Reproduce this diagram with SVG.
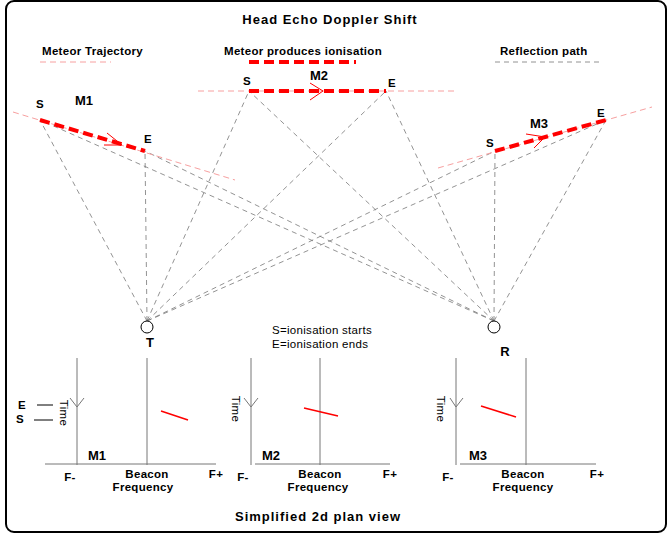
<svg xmlns="http://www.w3.org/2000/svg" width="672" height="535" viewBox="0 0 672 535">
<style>
text{font-family:"Liberation Sans",Arial,sans-serif;fill:#000}
.t{font-size:11.5px;font-weight:bold;letter-spacing:0.3px}
.h{font-size:13px;font-weight:bold;letter-spacing:1px}
.m{font-size:13px;font-weight:bold}
.n{font-size:11.5px;letter-spacing:0.3px}
.traj{stroke:#f7a0a0;stroke-width:1;stroke-dasharray:6 4;fill:none}
.ion{stroke:#f00;stroke-width:4;stroke-dasharray:10 5;fill:none}
.refl{stroke:#777;stroke-width:0.8;stroke-dasharray:5 4;fill:none}
.ax{stroke:#777;stroke-width:1;fill:none}
.red{stroke:#f00;stroke-width:1.5;fill:none}
</style>
<rect x="0" y="0" width="672" height="535" fill="#fff"/>
<rect x="6" y="1" width="660" height="531" rx="8" fill="none" stroke="#000" stroke-width="2"/>
<text x="330" y="24" text-anchor="middle" class="h">Head Echo Doppler Shift</text>
<g id="legend">
<text x="42" y="55" class="t">Meteor Trajectory</text>
<line x1="40" y1="62" x2="111" y2="62" class="traj"/>
<text x="224" y="55" class="t">Meteor produces ionisation</text>
<line x1="249" y1="62" x2="356" y2="62" class="ion"/>
<text x="500" y="55" class="t">Reflection path</text>
<line x1="495" y1="62" x2="603" y2="62" class="refl"/>
</g>
<g id="connectors">
<path class="refl" d="M147,321 L40,120 M147,321 L145,151 M147,321 L249,91 M147,321 L386,91 M147,321 L495,151 M147,321 L606,120 M494,321 L40,120 M494,321 L145,151 M494,321 L249,91 M494,321 L386,91 M494,321 L495,151 M494,321 L606,120"/>
</g>
<g id="M1">
<line x1="13" y1="112" x2="235" y2="180" class="traj"/>
<line x1="40" y1="120" x2="145" y2="151" class="ion"/>
<path d="M107,133 L122,145 M104,145 L122,145" stroke="#f00" fill="none"/>
<text x="36" y="108" class="t">S</text>
<text x="144" y="143" class="t">E</text>
<text x="75" y="105" class="m">M1</text>
</g>
<g id="M2">
<line x1="198" y1="91" x2="458" y2="91" class="traj"/>
<line x1="249" y1="91" x2="386" y2="91" class="ion"/>
<path d="M310,83 L323,91 L310,100" stroke="#f00" fill="none"/>
<text x="243" y="85" class="t">S</text>
<text x="388" y="87" class="t">E</text>
<text x="310" y="80" class="m">M2</text>
</g>
<g id="M3">
<line x1="438" y1="168" x2="652" y2="107" class="traj"/>
<line x1="495" y1="151" x2="606" y2="120" class="ion"/>
<path d="M526,134 L545,137 M534,148 L545,137" stroke="#f00" fill="none"/>
<text x="486" y="147" class="t">S</text>
<text x="597" y="117" class="t">E</text>
<text x="530" y="128" class="m">M3</text>
</g>
<g id="T">
<circle cx="147" cy="327" r="6" fill="#fff" stroke="#000"/>
<text x="150" y="347" text-anchor="middle" class="m" font-weight="normal">T</text>
</g>
<g id="R">
<circle cx="494" cy="327" r="6" fill="#fff" stroke="#000"/>
<text x="505" y="356" text-anchor="middle" class="m">R</text>
</g>
<g id="key">
<text x="272" y="334" class="n">S=ionisation starts</text>
<text x="272" y="348" class="n">E=ionisation ends</text>
</g>
<g id="panel1">
<path class="ax" d="M77,358 V465 M147,358 V465 M45,464 H216 M70,398 L77,407 L84,398"/>
<path d="M37,405 H53 M34,420 H53" stroke="#000" fill="none"/>
<text x="22" y="409" text-anchor="middle" class="t">E</text>
<text x="20" y="423" text-anchor="middle" class="t">S</text>
<text transform="translate(60,413) rotate(90)" text-anchor="middle" class="n">Time</text>
<line x1="161" y1="411" x2="188" y2="420" class="red"/>
<text x="88" y="460" class="m">M1</text>
<text x="70" y="481" text-anchor="middle" class="t">F-</text>
<text x="147" y="478" text-anchor="middle" class="t">Beacon</text>
<text x="143" y="491" text-anchor="middle" class="t">Frequency</text>
<text x="216" y="478" text-anchor="middle" class="t">F+</text>
</g>
<g id="panel2">
<path class="ax" d="M251,358 V465 M320,358 V465 M255,464 H390 M244,398 L251,407 L258,398"/>
<text transform="translate(232,409) rotate(90)" text-anchor="middle" class="n">Time</text>
<line x1="304" y1="408" x2="338" y2="416" class="red"/>
<text x="262" y="460" class="m">M2</text>
<text x="243" y="481" text-anchor="middle" class="t">F-</text>
<text x="320" y="478" text-anchor="middle" class="t">Beacon</text>
<text x="318" y="491" text-anchor="middle" class="t">Frequency</text>
<text x="390" y="478" text-anchor="middle" class="t">F+</text>
</g>
<g id="panel3">
<path class="ax" d="M456,358 V465 M526,358 V465 M460,464 H596 M450,398 L456,407 L463,398"/>
<text transform="translate(437,409) rotate(90)" text-anchor="middle" class="n">Time</text>
<line x1="481" y1="406" x2="516" y2="417" class="red"/>
<text x="469" y="460" class="m">M3</text>
<text x="448" y="481" text-anchor="middle" class="t">F-</text>
<text x="523" y="478" text-anchor="middle" class="t">Beacon</text>
<text x="523" y="491" text-anchor="middle" class="t">Frequency</text>
<text x="597" y="478" text-anchor="middle" class="t">F+</text>
</g>
<text x="318" y="521" text-anchor="middle" class="h">Simplified 2d plan view</text>
</svg>
